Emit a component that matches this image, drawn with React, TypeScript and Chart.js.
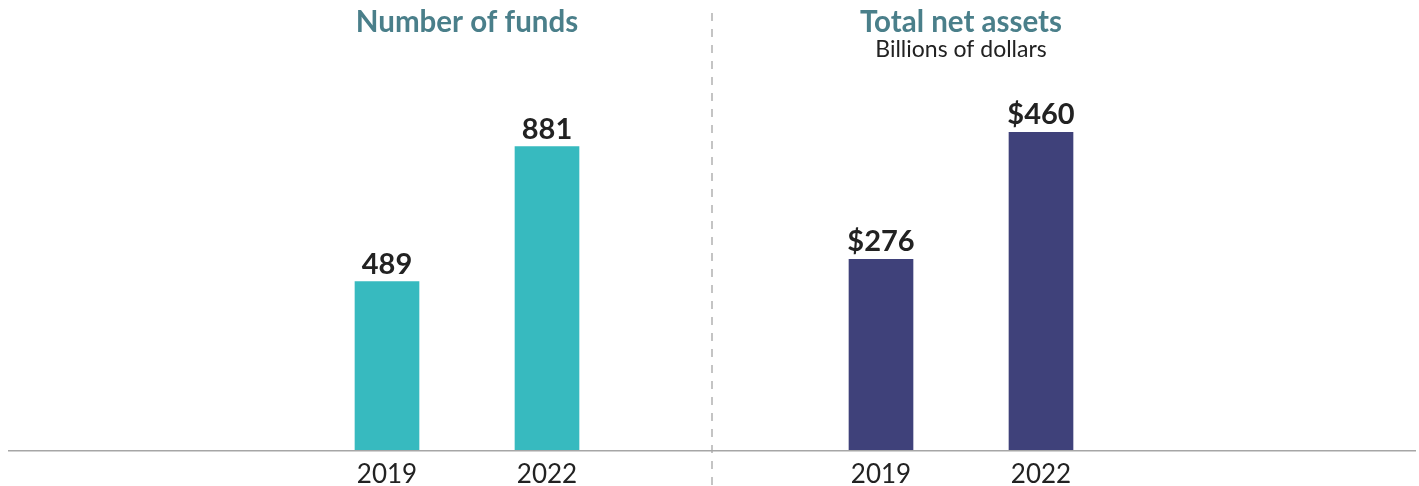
import React, { useEffect, useRef } from "react";
import { Chart, registerables } from "chart.js";

Chart.register(...registerables);

const years = ["2019", "2022"];
const fundCounts = [489, 881];
const netAssets = [276, 460];
const fundLabels = ["489", "881"];
const assetLabels = ["$276", "$460"];

const TEAL = "#37babf";
const NAVY = "#3f417a";
const TITLE_COLOR = "#4a7f8a";
const TEXT_COLOR = "#222222";
const FONT = "Lato, 'Open Sans', sans-serif";

const valueLabelPlugin = (labels: string[]) => ({
  id: "valueLabels",
  afterDatasetsDraw(chart: any) {
    const ctx = chart.ctx;
    const meta = chart.getDatasetMeta(0);
    ctx.save();
    ctx.font = `bold 29px ${FONT}`;
    ctx.fillStyle = TEXT_COLOR;
    ctx.textAlign = "center";
    ctx.textBaseline = "alphabetic";
    meta.data.forEach((bar: any, i: number) => {
      ctx.fillText(labels[i], bar.x, bar.y - 8);
    });
    ctx.restore();
  },
});

const baselinePlugin = (x0: number, x1: number) => ({
  id: "baseline",
  afterDatasetsDraw(chart: any) {
    const ctx = chart.ctx;
    const y = chart.scales.y.getPixelForValue(0);
    ctx.save();
    ctx.strokeStyle = "#a6a6a6";
    ctx.lineWidth = 1.5;
    ctx.beginPath();
    ctx.moveTo(x0, y + 0.75);
    ctx.lineTo(x1, y + 0.75);
    ctx.stroke();
    ctx.restore();
  },
});

const dividerPlugin = {
  id: "divider",
  beforeDraw(chart: any) {
    const ctx = chart.ctx;
    ctx.save();
    ctx.strokeStyle = "#c4c4c4";
    ctx.lineWidth = 2;
    ctx.setLineDash([8, 8]);
    ctx.beginPath();
    ctx.moveTo(2, 13);
    ctx.lineTo(2, chart.height);
    ctx.stroke();
    ctx.restore();
  },
};

function Panel(props: {
  title: string;
  subtitle: string;
  values: number[];
  labels: string[];
  color: string;
  yMax: number;
  padLeft: number;
  padRight: number;
  lineX0: number;
  lineX1: number;
  divider: boolean;
}) {
  const ref = useRef<HTMLCanvasElement | null>(null);
  useEffect(() => {
    if (!ref.current) return;
    const plugins: any[] = [valueLabelPlugin(props.labels), baselinePlugin(props.lineX0, props.lineX1)];
    if (props.divider) plugins.push(dividerPlugin);
    const chart = new Chart(ref.current, {
      type: "bar",
      data: {
        labels: years,
        datasets: [
          {
            data: props.values,
            backgroundColor: props.color,
            barThickness: 64,
          },
        ],
      },
      options: {
        animation: false,
        responsive: true,
        maintainAspectRatio: false,
        layout: { padding: { left: props.padLeft, right: props.padRight, top: 0, bottom: 0 } },
        plugins: {
          legend: { display: false },
          tooltip: { enabled: false },
          title: {
            display: true,
            text: props.title,
            color: TITLE_COLOR,
            font: { family: FONT, size: 29.5, weight: "bold", lineHeight: 1.1 },
            padding: { top: 6, bottom: 0 },
          },
          subtitle: {
            display: true,
            text: props.subtitle,
            color: TEXT_COLOR,
            font: { family: FONT, size: 23, weight: "normal", lineHeight: 1.0 },
            padding: { top: 0, bottom: 10 },
          },
        },
        scales: {
          x: {
            grid: { display: false },
            border: { display: false },
            ticks: {
              color: TEXT_COLOR,
              font: { family: FONT, size: 26, lineHeight: 1 },
              padding: 4,
            },
          },
          y: {
            display: false,
            min: 0,
            max: props.yMax,
          },
        },
      },
      plugins,
    });
    return () => chart.destroy();
  }, []);
  return <canvas ref={ref} />;
}

export default function App() {
  return (
    <div style={{ position: "absolute", left: 0, top: 0, width: 1419, height: 486, background: "#fff", overflow: "hidden" }}>
      <div style={{ position: "absolute", left: 0, top: 0, width: 710, height: 492 }}>
        <Panel
          title="Number of funds"
          subtitle=" "
          values={fundCounts}
          labels={fundLabels}
          color={TEAL}
          yMax={1099}
          padLeft={307}
          padRight={83}
          lineX0={8}
          lineX1={710}
          divider={false}
        />
      </div>
      <div style={{ position: "absolute", left: 710, top: 0, width: 709, height: 492 }}>
        <Panel
          title="Total net assets"
          subtitle="Billions of dollars"
          values={netAssets}
          labels={assetLabels}
          color={NAVY}
          yMax={548}
          padLeft={91}
          padRight={298}
          lineX0={0}
          lineX1={706}
          divider={true}
        />
      </div>
    </div>
  );
}
